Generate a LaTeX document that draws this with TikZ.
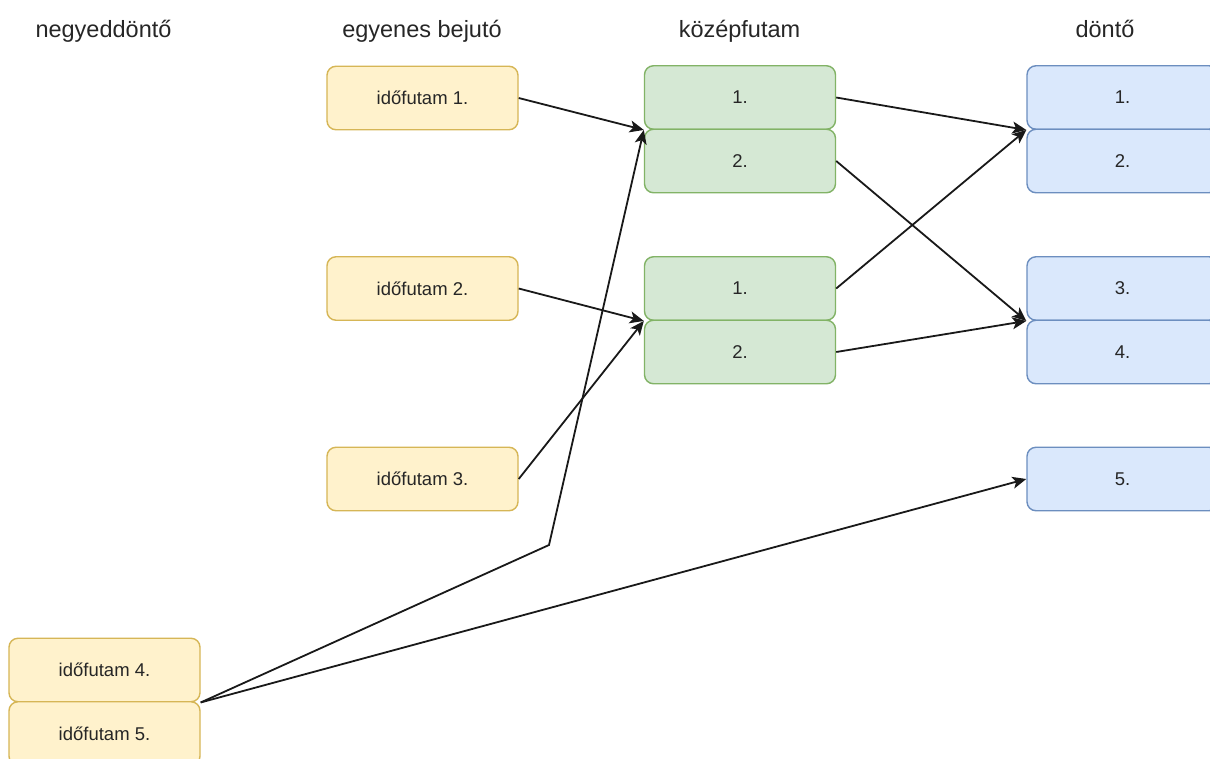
\documentclass[tikz,border=0pt]{standalone}
\usepackage{fontspec}
\setmainfont{Liberation Sans}
\usetikzlibrary{arrows.meta}
\tikzset{
  box/.style={draw, rounded corners=9pt, line width=1.4pt, minimum width=191pt, minimum height=63.5pt, inner sep=0pt, font=\fontsize{18.5}{22}\selectfont, text=black!85},
  ybox/.style={box, fill=yellowfill, draw=yellowline},
  gbox/.style={box, fill=greenfill, draw=greenline},
  bbox/.style={box, fill=bluefill, draw=blueline},
  head/.style={font=\fontsize{23.5}{28}\selectfont, text=black!85, inner sep=0pt, anchor=base},
  conn/.style={line width=1.8pt, black!90, -{Stealth[length=14pt,width=12pt,inset=3.5pt]}}
}
\definecolor{yellowfill}{HTML}{FFF2CC}
\definecolor{yellowline}{HTML}{D6B656}
\definecolor{greenfill}{HTML}{D5E8D4}
\definecolor{greenline}{HTML}{82B366}
\definecolor{bluefill}{HTML}{DAE8FC}
\definecolor{blueline}{HTML}{6C8EBF}
\begin{document}
\begin{tikzpicture}[x=1pt,y=-1pt]
\useasboundingbox (0,0) rectangle (1210,758);
\clip (0,0) rectangle (1210,758);
\fill[white] (0,0) rectangle (1210,758);
% headers
\node[head] (h1) at (103.5,37) {negyeddöntő};
\node[head] (h2) at (422,37) {egyenes bejutó};
\node[head] (h3) at (739.5,37) {középfutam};
\node[head] (h4) at (1105,37) {döntő};
% yellow
\node[ybox] (y1) at (422.5,98) {időfutam 1.};
\node[ybox] (y2) at (422.5,288.5) {időfutam 2.};
\node[ybox] (y3) at (422.5,479) {időfutam 3.};
\node[ybox] (y4) at (104.5,670) {időfutam 4.};
\node[ybox] (y5) at (104.5,733.5) {időfutam 5.};
% green
\node[gbox] (ga1) at (740,97.5) {1.};
\node[gbox] (ga2) at (740,161) {2.};
\node[gbox] (gb1) at (740,288.5) {1.};
\node[gbox] (gb2) at (740,352) {2.};
% blue
\node[bbox] (b1) at (1122.5,97.5) {1.};
\node[bbox] (b2) at (1122.5,161) {2.};
\node[bbox] (b3) at (1122.5,288.5) {3.};
\node[bbox] (b4) at (1122.5,352) {4.};
\node[bbox] (b5) at (1122.5,479) {5.};
% connectors
\coordinate (bend) at (549,545);
\draw[conn] (y1.east) -- (ga1.south west);
\draw[conn] (y2.east) -- (gb1.south west);
\draw[conn] (y3.east) -- (gb1.south west);
\draw[conn] (y4.south east) -- (bend) -- (ga1.south west);
\draw[conn] (y4.south east) -- (b5.west);
\draw[conn] (ga1.east) -- (b1.south west);
\draw[conn] (ga2.east) -- (b3.south west);
\draw[conn] (gb1.east) -- (b1.south west);
\draw[conn] (gb2.east) -- (b3.south west);
\end{tikzpicture}
\end{document}
